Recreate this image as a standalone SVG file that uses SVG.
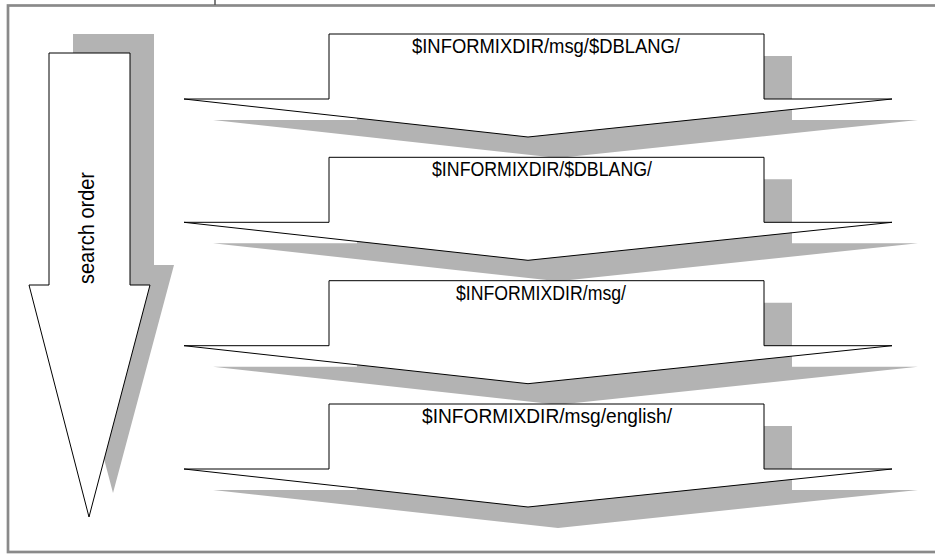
<svg xmlns="http://www.w3.org/2000/svg" xmlns:xlink="http://www.w3.org/1999/xlink" width="935" height="555" viewBox="0 0 935 555">
  <style>
    .shadow { fill: #b3b3b3; stroke: none; }
    .arrow { fill: #ffffff; stroke: #000000; stroke-width: 1; stroke-linejoin: miter; }
    .label { font-family: "Liberation Sans", Arial, sans-serif; font-size: 21px; fill: #000000; text-anchor: middle; }
    .vlabel { font-family: "Liberation Sans", Arial, sans-serif; font-size: 22px; fill: #000000; text-anchor: middle; }
    .frame { fill: none; stroke: #8a8a8a; stroke-width: 2.7; }
  </style>
  <defs>
    <path id="hshadow" d="M213,120 L357,120 L357,56 L792,56 L792,120 L918,120 L558,158 Z"/>
    <path id="harrow" d="M184,99 L329,99 L329,34 L764,34 L764,99 L892,99 L528,137 Z"/>
  </defs>
  <rect x="0" y="0" width="935" height="555" fill="#ffffff"/>
  <rect class="frame" x="8" y="5.5" width="940" height="546.5"/>
  <line x1="215" y1="0" x2="215" y2="5" stroke="#555555" stroke-width="1.5"/>

  <g id="search-order">
    <path class="shadow" d="M73,34 L154,34 L154,265 L174,265 L113,493 L53,265 L73,265 Z"/>
    <path class="arrow" d="M49,53 L130,53 L130,285 L150,285 L89,517 L29,285 L49,285 Z"/>
    <text class="vlabel" transform="translate(94,228) rotate(-90)" x="0" y="0" textLength="112" lengthAdjust="spacingAndGlyphs">search order</text>
  </g>

  <g id="dir1">
    <use xlink:href="#hshadow" class="shadow"/>
    <use xlink:href="#harrow" class="arrow"/>
    <text class="label" x="546" y="53" textLength="268" lengthAdjust="spacingAndGlyphs">$INFORMIXDIR/msg/$DBLANG/</text>
  </g>
  <g id="dir2" transform="translate(0,123.3)">
    <use xlink:href="#hshadow" class="shadow"/>
    <use xlink:href="#harrow" class="arrow"/>
    <text class="label" x="542" y="53" textLength="220" lengthAdjust="spacingAndGlyphs">$INFORMIXDIR/$DBLANG/</text>
  </g>
  <g id="dir3" transform="translate(0,246.7)">
    <use xlink:href="#hshadow" class="shadow"/>
    <use xlink:href="#harrow" class="arrow"/>
    <text class="label" x="541" y="53" textLength="170" lengthAdjust="spacingAndGlyphs">$INFORMIXDIR/msg/</text>
  </g>
  <g id="dir4" transform="translate(0,370)">
    <use xlink:href="#hshadow" class="shadow"/>
    <use xlink:href="#harrow" class="arrow"/>
    <text class="label" x="547" y="53" textLength="250" lengthAdjust="spacingAndGlyphs">$INFORMIXDIR/msg/english/</text>
  </g>
  <g id="connectors"></g>
</svg>
